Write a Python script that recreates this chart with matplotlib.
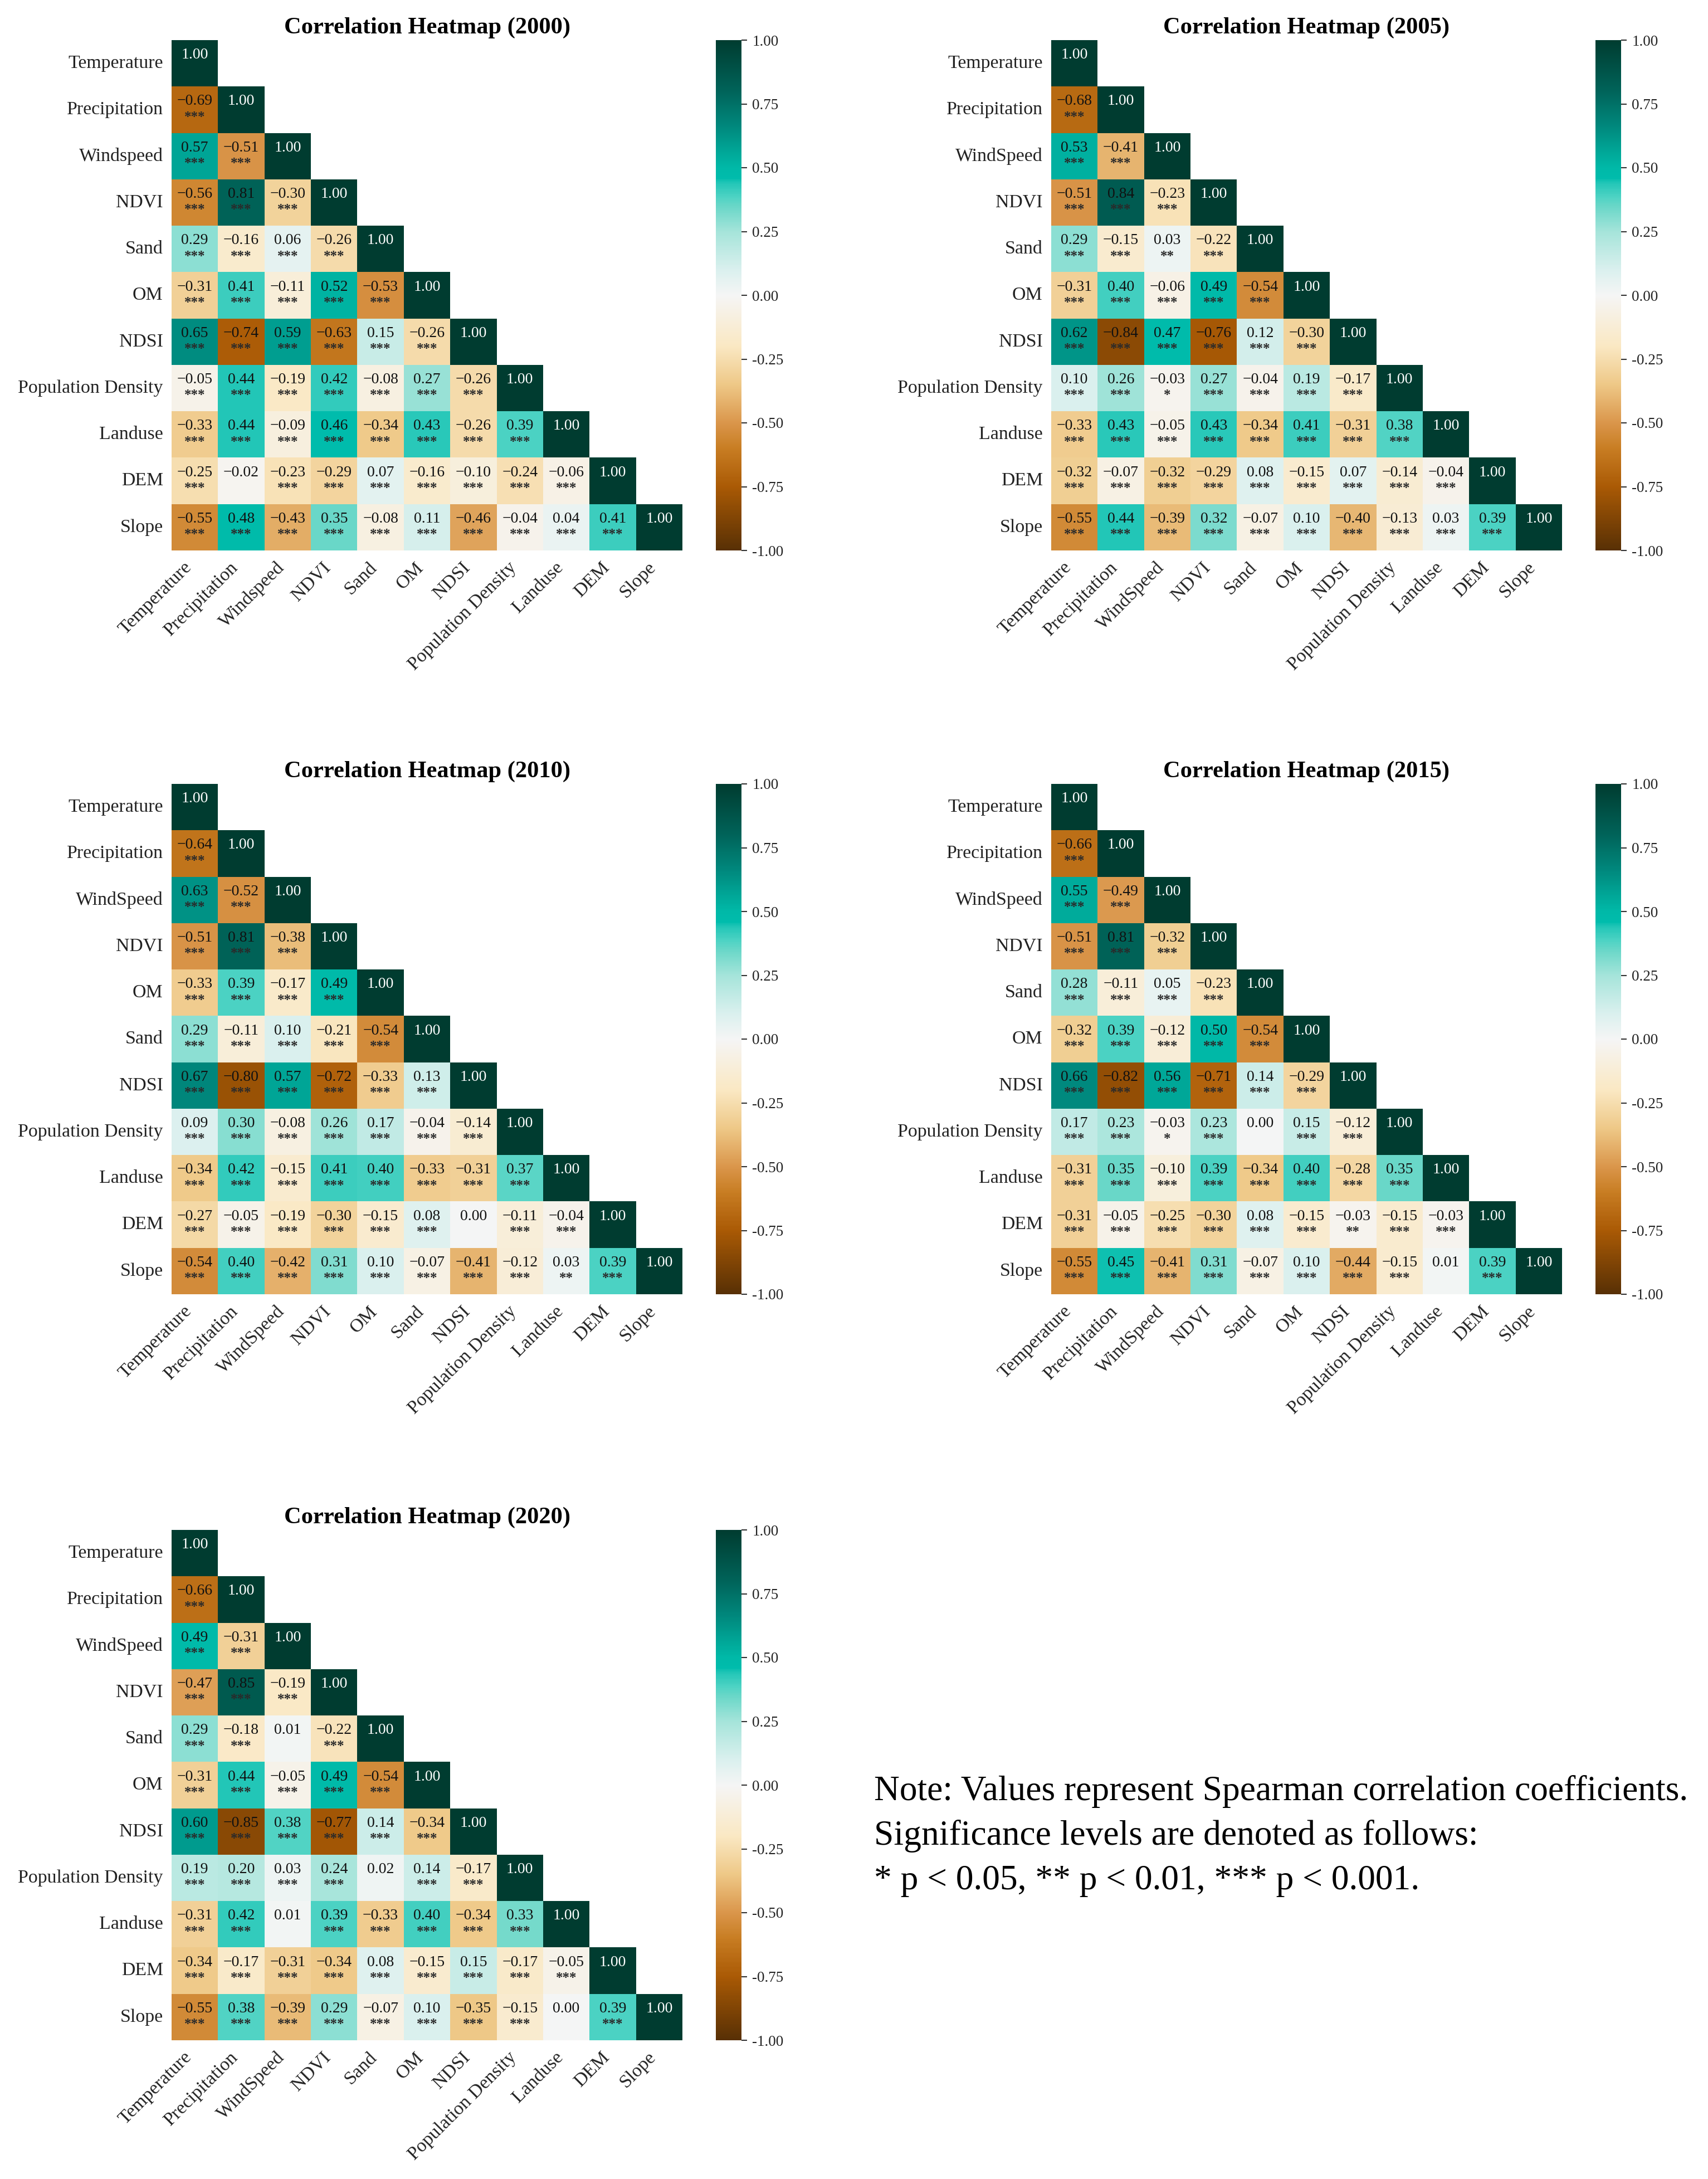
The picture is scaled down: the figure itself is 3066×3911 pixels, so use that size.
import numpy as np
import matplotlib
matplotlib.use("Agg")
import matplotlib.pyplot as plt
from matplotlib.colors import LinearSegmentedColormap

plt.rcParams['font.family'] = ['Liberation Serif', 'DejaVu Serif']

YEARS = [2000, 2005, 2010, 2015, 2020]

LABELS_2000 = ["Temperature", "Precipitation", "Windspeed", "NDVI", "Sand", "OM", "NDSI",
               "Population Density", "Landuse", "DEM", "Slope"]
LABELS_2005 = ["Temperature", "Precipitation", "WindSpeed", "NDVI", "Sand", "OM", "NDSI",
               "Population Density", "Landuse", "DEM", "Slope"]
LABELS_2010 = ["Temperature", "Precipitation", "WindSpeed", "NDVI", "OM", "Sand", "NDSI",
               "Population Density", "Landuse", "DEM", "Slope"]
LABELS_2015 = LABELS_2005
LABELS_2020 = LABELS_2005

R_2000 = [
    [-.69],
    [.57, -.51],
    [-.56, .81, -.30],
    [.29, -.16, .06, -.26],
    [-.31, .41, -.11, .52, -.53],
    [.65, -.74, .59, -.63, .15, -.26],
    [-.05, .44, -.19, .42, -.08, .27, -.26],
    [-.33, .44, -.09, .46, -.34, .43, -.26, .39],
    [-.25, -.02, -.23, -.29, .07, -.16, -.10, -.24, -.06],
    [-.55, .48, -.43, .35, -.08, .11, -.46, -.04, .04, .41],
]
R_2005 = [
    [-.68],
    [.53, -.41],
    [-.51, .84, -.23],
    [.29, -.15, .03, -.22],
    [-.31, .40, -.06, .49, -.54],
    [.62, -.84, .47, -.76, .12, -.30],
    [.10, .26, -.03, .27, -.04, .19, -.17],
    [-.33, .43, -.05, .43, -.34, .41, -.31, .38],
    [-.32, -.07, -.32, -.29, .08, -.15, .07, -.14, -.04],
    [-.55, .44, -.39, .32, -.07, .10, -.40, -.13, .03, .39],
]
R_2010 = [
    [-.64],
    [.63, -.52],
    [-.51, .81, -.38],
    [-.33, .39, -.17, .49],
    [.29, -.11, .10, -.21, -.54],
    [.67, -.80, .57, -.72, -.33, .13],
    [.09, .30, -.08, .26, .17, -.04, -.14],
    [-.34, .42, -.15, .41, .40, -.33, -.31, .37],
    [-.27, -.05, -.19, -.30, -.15, .08, .00, -.11, -.04],
    [-.54, .40, -.42, .31, .10, -.07, -.41, -.12, .03, .39],
]
R_2015 = [
    [-.66],
    [.55, -.49],
    [-.51, .81, -.32],
    [.28, -.11, .05, -.23],
    [-.32, .39, -.12, .50, -.54],
    [.66, -.82, .56, -.71, .14, -.29],
    [.17, .23, -.03, .23, .00, .15, -.12],
    [-.31, .35, -.10, .39, -.34, .40, -.28, .35],
    [-.31, -.05, -.25, -.30, .08, -.15, -.03, -.15, -.03],
    [-.55, .45, -.41, .31, -.07, .10, -.44, -.15, .01, .39],
]
R_2020 = [
    [-.66],
    [.49, -.31],
    [-.47, .85, -.19],
    [.29, -.18, .01, -.22],
    [-.31, .44, -.05, .49, -.54],
    [.60, -.85, .38, -.77, .14, -.34],
    [.19, .20, .03, .24, .02, .14, -.17],
    [-.31, .42, .01, .39, -.33, .40, -.34, .33],
    [-.34, -.17, -.31, -.34, .08, -.15, .15, -.17, -.05],
    [-.55, .38, -.39, .29, -.07, .10, -.35, -.15, .00, .39],
]

# Cells whose significance differs from "***": (row, column) -> stars
STARS_2000 = {(9, 1): ""}
STARS_2005 = {(4, 2): "**", (7, 2): "*"}
STARS_2010 = {(9, 6): "", (10, 8): "**"}
STARS_2015 = {(7, 2): "*", (7, 4): "", (9, 6): "**", (10, 8): ""}
STARS_2020 = {(4, 2): "", (7, 4): "", (8, 2): "", (10, 8): ""}

NOTE_LINES = ["Note: Values represent Spearman correlation coefficients.",
              "Significance levels are denoted as follows:",
              "* p < 0.05, ** p < 0.01, *** p < 0.001."]

CMAP_POS = [-1, -.75, -.6, -.5, -.35, -.2, 0, .1, .25, .35, .39, .44, .46, .5, .57, .65, .8, 1]
CMAP_RGB = [(88, 48, 5), (170, 90, 5), (200, 125, 35), (218, 150, 75), (238, 200, 135),
            (250, 232, 195), (245, 245, 245), (218, 240, 238), (165, 228, 218),
            (105, 215, 200), (75, 210, 195), (35, 198, 183), (0, 188, 172), (0, 185, 168),
            (0, 165, 150), (0, 140, 128), (0, 100, 90), (0, 60, 48)]
cmap = LinearSegmentedColormap.from_list(
    "custom", [((p + 1) / 2, tuple(c / 255 for c in rgb)) for p, rgb in zip(CMAP_POS, CMAP_RGB)], N=512)
cmap.set_bad("white")

W, H = 3066, 3911
fig = plt.figure(figsize=(W / 100, H / 100), dpi=100, facecolor="white")


def px_axes(x0, y0, x1, y1):
    return fig.add_axes([x0 / W, 1 - y1 / H, (x1 - x0) / W, (y1 - y0) / H])


def build_matrix(rows):
    n = len(rows) + 1
    m = np.full((n, n), np.nan)
    np.fill_diagonal(m, 1.0)
    for i, row in enumerate(rows):
        m[i + 1, :len(row)] = row
    return m


def heatmap(year, labels, rows, stars, x0, y0):
    m = build_matrix(rows)
    n = len(labels)
    ax = px_axes(x0, y0, x0 + 917, y0 + 916)
    mesh = ax.pcolormesh(np.arange(n + 1), np.arange(n + 1), np.ma.masked_invalid(m),
                         cmap=cmap, vmin=-1, vmax=1)
    ax.set_xlim(0, n)
    ax.set_ylim(n, 0)
    for s in ax.spines.values():
        s.set_visible(False)
    ax.set_xticks(np.arange(n) + .5)
    ax.set_yticks(np.arange(n) + .5)
    ax.set_xticklabels(labels, rotation=45, ha="right", fontsize=24.4, color="#222222")
    ax.set_yticklabels(labels, fontsize=24.4, color="#222222", va="center")
    ax.tick_params(axis="both", length=0)
    ax.tick_params(axis="y", pad=11)
    ax.tick_params(axis="x", pad=11)
    ax.set_title(f"Correlation Heatmap ({year})", fontsize=30.6, fontweight="bold", pad=9)
    for i in range(n):
        for j in range(i + 1):
            v = m[i, j]
            col = "white" if i == j else "#111111"
            ax.text(j + .5, i + .32, f"{v:.2f}".replace("-", "\u2212"), ha="center", va="center",
                    fontsize=20, color=col)
            if i != j:
                st = stars.get((i, j), "***")
                if st:
                    ax.text(j + .5, i + .66, st, ha="center", va="center", fontsize=18,
                            fontweight="bold", color="#2a2a2a")
    cax = px_axes(x0 + 977, y0, x0 + 1023, y0 + 916)
    cb = fig.colorbar(mesh, cax=cax, ticks=[-1, -.75, -.5, -.25, 0, .25, .5, .75, 1], format="%.2f")
    cb.outline.set_visible(False)
    cb.ax.tick_params(length=7, width=1.5, labelsize=19.5, pad=7, color="#333333", labelcolor="#222222")


heatmap(YEARS[0], LABELS_2000, R_2000, STARS_2000, 308, 72)
heatmap(YEARS[1], LABELS_2005, R_2005, STARS_2005, 1887, 72)
heatmap(YEARS[2], LABELS_2010, R_2010, STARS_2010, 308, 1407)
heatmap(YEARS[3], LABELS_2015, R_2015, STARS_2015, 1887, 1407)
heatmap(YEARS[4], LABELS_2020, R_2020, STARS_2020, 308, 2746)

for line, base in zip(NOTE_LINES, [3231, 3311, 3391]):
    fig.text(1569 / W, 1 - base / H, line, fontsize=45.7, va="baseline", ha="left", color="black")

fig.savefig("out.png", dpi=100, facecolor="white")
